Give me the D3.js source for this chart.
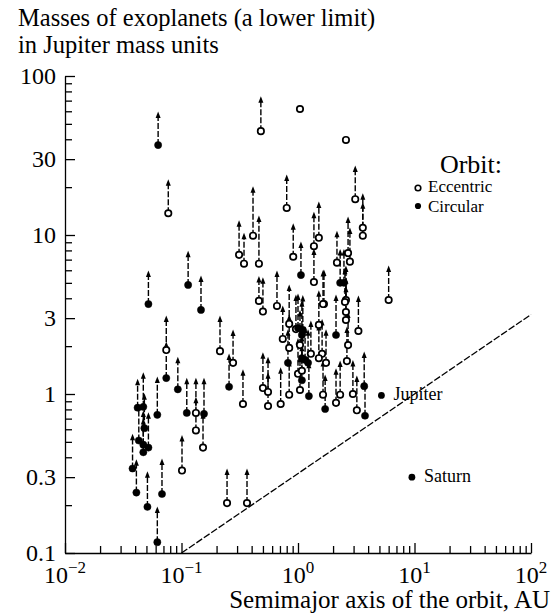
<!DOCTYPE html>
<html>
<head>
<meta charset="utf-8">
<script src="https://cdn.jsdelivr.net/npm/d3@7"></script>
<style>
  body { margin: 0; background: #fff; }
  svg { display: block; font-family: "Liberation Serif", "DejaVu Serif", serif; }
  svg text { font-family: "Liberation Serif", "DejaVu Serif", serif; }
</style>
</head>
<body>
<svg id="chart" width="556" height="614"></svg>
<script>
// exoplanets: semimajor axis (AU), minimum mass (Mj), arrow tip (Mj, null = no arrow), orbit e/c
const semiAxis = [0.063,0.077,0.114,0.052,0.147,0.074,0.074,0.093,0.062,0.047,0.042,0.111,0.133,0.156,0.133,0.048,0.043,0.047,0.052,0.047,
  0.038,0.041,0.051,0.068,0.062,0.101,0.153,0.246,0.365,0.214,0.277,0.256,0.337,0.312,0.344,0.411,0.462,0.48,0.462,0.50,
  0.50,0.553,0.553,1.04,2.58,3.1,3.6,3.6,0.80,0.66,0.84,0.74,0.84,0.96,1.0,1.10,1.06,1.37,1.37,1.51,
  0.91,2.16,2.69,2.79,2.30,2.48,1.29,1.51,1.67,2.12,2.58,2.58,2.58,3.3,2.69,2.63,1.61,1.74,1.51,1.08,
  1.15,1.22,1.04,1.08,0.82,1.0,1.08,1.08,1.04,1.24,0.84,0.71,1.64,1.71,2.12,2.30,2.96,3.2,3.7,3.76,
  6.0,1.64,2.53];
const massMin = [36.8,13.7,4.85,3.68,3.38,1.89,1.26,1.07,0.74,0.83,0.82,0.76,0.76,0.75,0.59,0.61,0.51,0.48,0.46,0.43,
  0.34,0.24,0.195,0.235,0.117,0.33,0.46,0.206,0.206,1.86,1.57,1.11,0.865,7.5,6.6,9.9,6.6,45,3.85,3.3,
  1.09,0.84,1.03,62,39.6,16.8,11.1,9.9,14.8,3.58,2.76,2.22,1.95,2.56,2.6,2.53,5.6,5.06,8.5,9.6,
  7.3,6.7,7.7,6.8,5.0,5.0,1.79,2.72,3.68,2.35,3.9,3.28,2.92,2.49,2.03,1.61,1.79,1.57,1.68,1.68,
  1.64,1.57,2.03,2.35,1.57,1.34,1.40,1.22,1.06,0.97,0.99,0.865,0.99,0.805,0.88,0.99,1.0,0.79,1.12,0.73,
  3.9,3.68,3.79];
const massArrow = [58.5,21.9,7.8,5.85,5.44,3.05,2.09,1.68,1.26,1.34,1.22,1.24,1.24,1.24,0.94,0.99,0.85,0.77,0.75,0.69,
  0.55,0.38,0.32,0.385,0.192,0.54,0.75,0.333,0.333,3.05,2.49,1.76,1.40,12.1,10.1,19.8,13.0,73,5.4,5.3,
  1.79,1.34,1.68,null,null,26.8,17.9,15.7,23.5,5.85,4.78,3.52,3.1,4.13,4.2,4.1,8.9,8.05,13.7,15.9,
  11.6,10.4,12.8,10.9,8.0,8.0,2.84,4.4,5.94,4.13,6.3,5.3,4.7,4.07,3.23,2.6,2.9,2.5,2.7,2.7,
  2.6,2.5,3.3,3.8,2.5,2.2,2.3,2.0,1.7,1.56,1.6,1.44,1.6,1.3,1.42,1.59,1.6,1.28,1.81,1.17,
  6.3,5.9,6.1];
const orbit = ("ceccceccccccececcccc" + "ccccceeeeeeceeeeeeee" + "eeeeeeeeeeeeeeccceee" +
  "eeeecceeeceeeeeeeeec" + "ccecceececeeeceeeecc" + "eee").split("");

// solar system planets
const solarNames = ["Jupiter", "Saturn"];
const solarAxis = [5.2, 9.5];
const solarMass = [0.98, 0.3];

// detection limit line
const limitAxis = [0.1, 100];
const limitMass = [0.1, 3.16];

const yMajor = [0.1, 0.3, 1, 3, 10, 30, 100];
const yLabels = ["0.1", "0.3", "1", "3", "10", "30", "100"];
const xMajor = [0.01, 0.1, 1, 10, 100];
const xExp = ["\u22122", "\u22121", "0", "1", "2"];

const svg = d3.select("#chart");
const x = d3.scaleLog().domain([0.01, 100]).range([65, 531]);
const y = d3.scaleLog().domain([0.1, 100]).range([553, 76]);

const minorX = x.ticks().filter(d => !xMajor.some(v => Math.abs(v - d) < 1e-9));
const minorY = y.ticks().filter(d => !yMajor.some(v => Math.abs(v - d) < 1e-9));

// axes
svg.append("g").attr("transform", "translate(65,0)")
  .call(d3.axisLeft(y).tickValues(minorY).tickSize(-7).tickFormat(""))
  .call(g => g.select(".domain").remove());
svg.append("g").attr("transform", "translate(65,0)")
  .call(d3.axisLeft(y).tickValues(yMajor).tickSize(-10).tickSizeOuter(0).tickPadding(9)
    .tickFormat((d, i) => yLabels[i]))
  .call(g => g.attr("font-family", "Liberation Serif").attr("font-size", 24))
  .call(g => g.selectAll("text").attr("fill", "#000"));

svg.append("g").attr("transform", "translate(0,553)")
  .call(d3.axisBottom(x).tickValues(minorX).tickSize(-7).tickFormat(""))
  .call(g => g.select(".domain").remove());
svg.append("g").attr("transform", "translate(0,553)")
  .call(d3.axisBottom(x).tickValues(xMajor).tickSize(-10).tickSizeOuter(0).tickFormat(""));

svg.selectAll(".tick line, .domain").attr("stroke", "#000").attr("stroke-width", 1.3);

// x tick labels with superscripts
const xl = svg.append("g").selectAll("text").data(xMajor).join("text")
  .attr("x", d => x(d)).attr("y", 583)
  .attr("text-anchor", "middle").attr("font-size", 24);
xl.append("tspan").text("10");
xl.append("tspan").attr("dy", -10).attr("font-size", 17).text((d, i) => xExp[i]);

// detection limit
svg.append("path")
  .attr("d", d3.line().x((d, i) => x(d)).y((d, i) => y(limitMass[i]))(limitAxis))
  .attr("fill", "none").attr("stroke", "#000").attr("stroke-width", 1.3)
  .attr("stroke-dasharray", "7,2");

const pts = semiAxis.map((a, i) => ({ a, m: massMin[i], top: massArrow[i], o: orbit[i] }));

// dashed lines to arrows
svg.append("g").selectAll("line").data(pts.filter(d => d.top)).join("line")
  .attr("x1", d => x(d.a)).attr("x2", d => x(d.a))
  .attr("y1", d => y(d.m)).attr("y2", d => y(d.top) + 3)
  .attr("stroke", "#000").attr("stroke-width", 1.4).attr("stroke-dasharray", "6,2");

svg.append("g").selectAll("path").data(pts.filter(d => d.top)).join("path")
  .attr("d", d => {
    const px = x(d.a), py = y(d.top);
    return `M${px - 2.5},${py + 5}L${px},${py - 1.5}L${px + 2.5},${py + 5}Z`;
  })
  .attr("fill", "#000");

// planets
svg.append("g").selectAll("circle").data(pts).join("circle")
  .attr("cx", d => x(d.a)).attr("cy", d => y(d.m))
  .attr("r", d => d.o === "e" ? 3.2 : 3.6)
  .attr("fill", d => d.o === "e" ? "#fff" : "#000")
  .attr("stroke", "#000").attr("stroke-width", d => d.o === "e" ? 1.7 : 0.5);

// solar system
svg.append("g").selectAll("circle").data(solarAxis).join("circle")
  .attr("cx", d => x(d)).attr("cy", (d, i) => y(solarMass[i])).attr("r", 3.4).attr("fill", "#000");
svg.append("g").selectAll("text").data(solarNames).join("text")
  .attr("x", (d, i) => x(solarAxis[i]) + 12).attr("y", (d, i) => y(solarMass[i]) + 5)
  .attr("font-size", 18).text(d => d);

// legend
svg.append("text").attr("x", 502).attr("y", 173).attr("text-anchor", "end")
  .attr("font-size", 26).text("Orbit:");
svg.append("circle").attr("cx", 418).attr("cy", 188).attr("r", 2.8)
  .attr("fill", "#fff").attr("stroke", "#000").attr("stroke-width", 1.6);
svg.append("text").attr("x", 428).attr("y", 192).attr("font-size", 17).text("Eccentric");
svg.append("circle").attr("cx", 418).attr("cy", 206).attr("r", 3.1).attr("fill", "#000");
svg.append("text").attr("x", 428).attr("y", 212).attr("font-size", 17).text("Circular");

// titles
svg.append("text").attr("x", 18).attr("y", 26).attr("font-size", 24.5)
  .text("Masses of exoplanets (a lower limit)");
svg.append("text").attr("x", 18).attr("y", 53).attr("font-size", 24.5)
  .text("in Jupiter mass units");
svg.append("text").attr("x", 550).attr("y", 608).attr("text-anchor", "end").attr("font-size", 25)
  .text("Semimajor axis of the orbit, AU");
</script>
</body>
</html>
